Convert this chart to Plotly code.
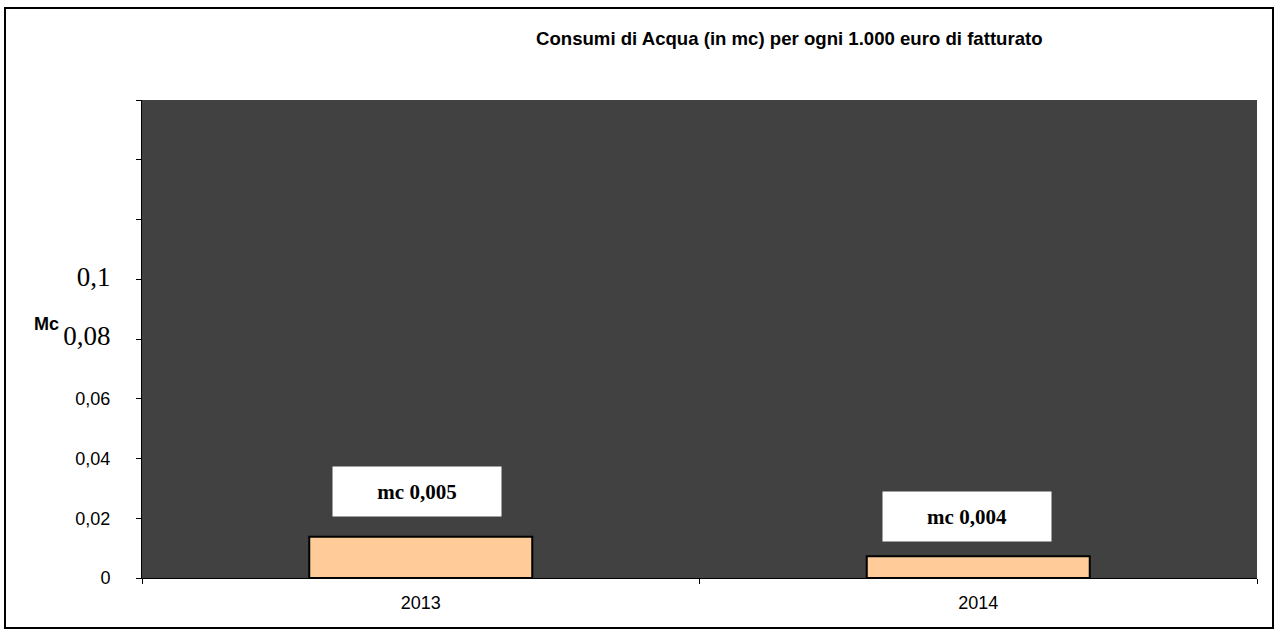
import plotly.graph_objects as go

# ---- data ----
years = ["2013", "2014"]
values = [0.0138, 0.0073]
value_labels = ["mc 0,005", "mc 0,004"]
ytick_vals = [0, 0.02, 0.04, 0.06, 0.08, 0.1, 0.12, 0.14, 0.16]
ytick_text = ["0", "0,02", "0,04", "0,06",
              '<span style="font-family:Liberation Serif;font-size:27px">0,08</span>',
              '<span style="font-family:Liberation Serif;font-size:27px">0,1</span>',
              "", "", ""]
title_text = "Consumi di Acqua (in mc) per ogni 1.000 euro di fatturato"
ytitle = "Mc"

label_xshift = [-4, -11]
label_yshift = [20, 14]

W, H = 1277, 632
L, R, T, B = 142, 20, 100, 54

fig = go.Figure()
fig.add_trace(go.Bar(
    x=years, y=values, width=0.4,
    marker=dict(color="#FFCC99", line=dict(color="black", width=2)),
    hoverinfo="x+y",
))

for i, (v, lab, xs, ys) in enumerate(zip(values, value_labels, label_xshift, label_yshift)):
    fig.add_annotation(
        x=i, y=v, text="<b>" + lab + "</b>", showarrow=False,
        xanchor="center", yanchor="bottom", xshift=xs, yshift=ys,
        bgcolor="white", width=168, height=49, borderpad=0,
        font=dict(family="Liberation Serif", size=21, color="black"),
    )

pw = W - L - R
ph = H - T - B

def px2x(px):
    return (px - L) / pw

def py2y(py):
    return (H - B - py) / ph

# outer frame
fig.add_shape(type="rect", xref="paper", yref="paper",
              x0=px2x(5), x1=px2x(1273), y0=py2y(628), y1=py2y(8),
              line=dict(color="black", width=2), fillcolor="rgba(0,0,0,0)", layer="below")

# title
fig.add_annotation(xref="paper", yref="paper", x=px2x(789), y=py2y(38),
                   text="<b>" + title_text + "</b>", showarrow=False,
                   xanchor="center", yanchor="middle",
                   font=dict(family="Liberation Sans", size=18.6, color="black"))
# y axis title
fig.add_annotation(xref="paper", yref="paper", x=px2x(46), y=py2y(324),
                   text="<b>" + ytitle + "</b>", showarrow=False,
                   xanchor="center", yanchor="middle",
                   font=dict(family="Liberation Sans", size=18, color="black"))

fig.update_layout(
    width=W, height=H,
    margin=dict(l=L, r=R, t=T, b=B),
    paper_bgcolor="white",
    plot_bgcolor="#414141",
    showlegend=False,
    font=dict(family="Liberation Sans", size=18, color="black"),
)
fig.update_xaxes(
    type="category", range=[-0.5, 1.5], autorange=False,
    showgrid=False, showline=True, linecolor="black", linewidth=1,
    ticks="outside", ticklen=5, tickcolor="black", tickson="boundaries",
    tickfont=dict(family="Liberation Sans", size=18, color="black"),
    ticklabelstandoff=8, tickangle=0,
)
fig.update_yaxes(
    range=[0, 0.16], autorange=False, showgrid=False, zeroline=False, showline=True,
    linecolor="black", linewidth=1,
    tickmode="array", tickvals=ytick_vals, ticktext=ytick_text,
    ticks="outside", ticklen=5, tickcolor="black",
    tickfont=dict(family="Liberation Sans", size=18, color="black"),
    ticklabelstandoff=22,
)

fig.write_html("out.html", config={"displayModeBar": False},
               post_script="document.body.style.margin='0';")
